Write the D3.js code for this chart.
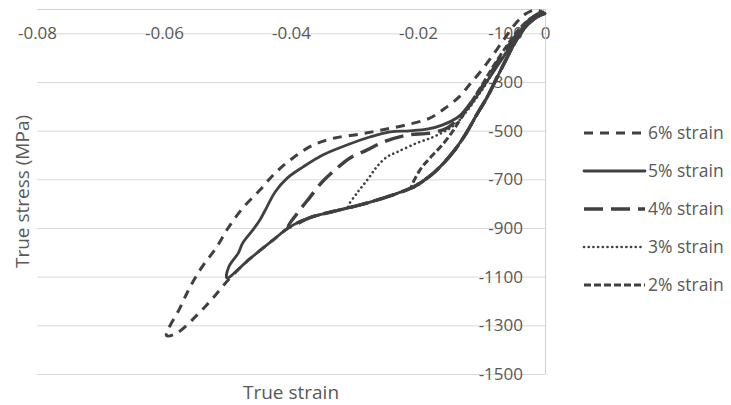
<!DOCTYPE html>
<html>
<head>
<meta charset="utf-8">
<script src="https://cdn.jsdelivr.net/npm/d3@7"></script>
<style>
  html, body { margin: 0; padding: 0; background: #fff; }
  svg { display: block; font-family: "Open Sans", "Noto Sans", sans-serif; }
</style>
</head>
<body>
<script>
// Cyclic compression loops: loading branch to the peak strain, then unloading back.
const seriesNames = ["6% strain", "5% strain", "4% strain", "3% strain", "2% strain"];

const strain6 = [0.0000, -0.0013, -0.0028, -0.0044, -0.0060, -0.0076, -0.0091, -0.0107, -0.0124, -0.0142, -0.0161, -0.0181, -0.0208, -0.0244, -0.0291, -0.0334, -0.0370, -0.0402, -0.0428, -0.0465, -0.0496, -0.0523, -0.0548, -0.0580, -0.0596,
  -0.0575, -0.0559, -0.0540, -0.0517, -0.0499, -0.0476, -0.0449, -0.0425, -0.0397, -0.0365, -0.0331, -0.0291, -0.0257, -0.0220, -0.0181, -0.0153, -0.0134, -0.0118, -0.0102, -0.0082, -0.0063, -0.0047, -0.0031, -0.0016, -0.0005];
const stress6 = [-18, -33, -66, -123, -201, -284, -362, -432, -510, -579, -637, -686, -732, -768, -805, -832, -857, -896, -949, -1027, -1105, -1188, -1258, -1332, -1342,
  -1229, -1143, -1060, -978, -900, -818, -744, -674, -612, -559, -530, -514, -497, -477, -448, -399, -358, -308, -259, -189, -119, -62, -21, -4, -12];

const strain5 = [0.0000, -0.0013, -0.0028, -0.0044, -0.0060, -0.0076, -0.0091, -0.0107, -0.0124, -0.0142, -0.0161, -0.0181, -0.0208, -0.0244, -0.0291, -0.0334, -0.0370, -0.0402, -0.0428, -0.0465, -0.0501,
  -0.0498, -0.0483, -0.0476, -0.0460, -0.0449, -0.0438, -0.0425, -0.0406, -0.0381, -0.0350, -0.0312, -0.0276, -0.0244, -0.0213, -0.0184, -0.0162, -0.0139, -0.0121, -0.0106, -0.0090, -0.0074, -0.0058, -0.0043, -0.0027, -0.0013, -0.0003];
const stress5 = [-18, -33, -66, -123, -201, -284, -362, -432, -510, -579, -637, -686, -732, -768, -805, -832, -857, -896, -949, -1027, -1105,
  -1060, -1003, -962, -908, -867, -814, -752, -695, -649, -600, -559, -526, -505, -501, -493, -477, -448, -407, -353, -292, -230, -168, -107, -53, -21, -12];

const strain4 = [0.0000, -0.0013, -0.0028, -0.0044, -0.0060, -0.0076, -0.0091, -0.0107, -0.0124, -0.0142, -0.0161, -0.0181, -0.0208, -0.0244, -0.0291, -0.0334, -0.0370, -0.0404,
  -0.0386, -0.0370, -0.0351, -0.0331, -0.0307, -0.0280, -0.0255, -0.0217, -0.0181, -0.0154, -0.0139, -0.0123, -0.0107, -0.0091, -0.0076, -0.0060, -0.0044, -0.0028, -0.0013, -0.0003];
const stress4 = [-18, -33, -66, -123, -201, -284, -362, -432, -510, -579, -637, -686, -732, -768, -805, -832, -857, -896,
  -826, -773, -711, -662, -612, -579, -547, -518, -510, -489, -456, -407, -349, -288, -222, -160, -103, -53, -25, -16];

const strain3 = [0.0000, -0.0013, -0.0028, -0.0044, -0.0060, -0.0076, -0.0091, -0.0107, -0.0124, -0.0142, -0.0161, -0.0181, -0.0208, -0.0244, -0.0291, -0.0310,
  -0.0296, -0.0280, -0.0265, -0.0249, -0.0233, -0.0202, -0.0176, -0.0154, -0.0139, -0.0123, -0.0107, -0.0091, -0.0076, -0.0060, -0.0044, -0.0028, -0.0013, -0.0003];
const stress3 = [-18, -33, -66, -123, -201, -284, -362, -432, -510, -579, -637, -686, -732, -768, -805, -815,
  -756, -703, -649, -608, -588, -551, -526, -497, -469, -419, -362, -300, -234, -173, -111, -62, -29, -16];

const strain2 = [0.0000, -0.0013, -0.0028, -0.0044, -0.0060, -0.0076, -0.0091, -0.0107, -0.0124, -0.0142, -0.0161, -0.0181, -0.0210,
  -0.0197, -0.0181, -0.0162, -0.0146, -0.0134, -0.0118, -0.0102, -0.0087, -0.0071, -0.0055, -0.0039, -0.0024, -0.0011, -0.0003];
const stress2 = [-18, -33, -66, -123, -201, -284, -362, -432, -510, -579, -637, -686, -735,
  -662, -612, -559, -505, -456, -390, -325, -259, -193, -132, -78, -41, -25, -21];

const xTickValues = [-0.08, -0.06, -0.04, -0.02, 0];
const xTickLabels = ["-0.08", "-0.06", "-0.04", "-0.02", "0"];
const yTickValues = [-100, -300, -500, -700, -900, -1100, -1300, -1500];
const yTickLabels = ["-100", "-300", "-500", "-700", "-900", "-1100", "-1300", "-1500"];

const W = 731, H = 405;
const plot = { left: 37, right: 545, top: 9, bottom: 374 };
const ink = "#404040", textColor = "#595959", gridColor = "#d9d9d9";

const x = d3.scaleLinear().domain([-0.08, 0]).range([plot.left, plot.right]);
const y = d3.scaleLinear().domain([-1500, 0]).range([plot.bottom, plot.top]);

const svg = d3.select("body").append("svg").attr("width", W).attr("height", H);

// horizontal gridlines
const grid = svg.append("g").attr("transform", `translate(${plot.right},0)`)
  .call(d3.axisLeft(y).tickValues(yTickValues).tickSize(plot.right - plot.left).tickFormat(""));
grid.select(".domain").remove();
grid.selectAll("line").attr("stroke", gridColor).attr("stroke-width", 1);

// horizontal axis sits at stress = 0 (top edge)
const xAxis = svg.append("g").attr("transform", `translate(0,${y(0)})`)
  .call(d3.axisBottom(x).tickValues(xTickValues).tickSize(0).tickSizeOuter(0)
    .tickFormat((d, i) => xTickLabels[i]));
xAxis.select(".domain").attr("stroke", "#d0d0d0");
xAxis.selectAll("text").attr("y", 24).attr("dy", "0.35em")
  .attr("fill", textColor).style("font-size", "17px").style("font-family", "'Open Sans', sans-serif");

// vertical axis sits at strain = 0 (right edge)
const yAxis = svg.append("g").attr("transform", `translate(${x(0)},0)`)
  .call(d3.axisLeft(y).tickValues(yTickValues).tickSize(0).tickSizeOuter(0).tickPadding(22)
    .tickFormat((d, i) => yTickLabels[i]));
yAxis.select(".domain").attr("stroke", "#d0d0d0");
yAxis.selectAll("text").attr("fill", textColor).style("font-size", "17px").style("font-family", "'Open Sans', sans-serif");

// axis titles
svg.append("text").attr("x", (plot.left + plot.right) / 2).attr("y", 392).attr("dy", "0.35em")
  .attr("text-anchor", "middle").attr("fill", textColor).style("font-size", "19px").text("True strain");
svg.append("text").attr("transform", `translate(22,${(plot.top + plot.bottom) / 2}) rotate(-90)`)
  .attr("dy", "0.35em").attr("text-anchor", "middle").attr("fill", textColor)
  .style("font-size", "19px").text("True stress (MPa)");

// series styles
const styles = [
  { dash: "9,7", width: 3, cap: "butt" },
  { dash: null, width: 2.8, cap: "round" },
  { dash: "19,8", width: 3.5, cap: "butt" },
  { dash: "0.1,4.6", width: 2.6, cap: "round" },
  { dash: "7,3", width: 3, cap: "butt" }
];
const seriesData = [
  d3.zip(strain6, stress6),
  d3.zip(strain5, stress5),
  d3.zip(strain4, stress4),
  d3.zip(strain3, stress3),
  d3.zip(strain2, stress2)
];

const line = d3.line().x(d => x(d[0])).y(d => y(d[1])).curve(d3.curveCatmullRom.alpha(0.5));

svg.append("g").selectAll("path").data(seriesData).join("path")
  .attr("d", line)
  .attr("fill", "none")
  .attr("stroke", ink)
  .attr("stroke-width", (d, i) => styles[i].width)
  .attr("stroke-dasharray", (d, i) => styles[i].dash)
  .attr("stroke-linecap", (d, i) => styles[i].cap)
  .attr("stroke-linejoin", "round");

// legend
const legend = svg.append("g");
const legendY = [133, 171, 209, 247, 285];
seriesNames.forEach((name, i) => {
  const g = legend.append("g").attr("transform", `translate(0,${legendY[i]})`);
  g.append("line").attr("x1", 584).attr("x2", 645).attr("y1", 0).attr("y2", 0)
    .attr("stroke", ink).attr("stroke-width", styles[i].width)
    .attr("stroke-dasharray", styles[i].dash).attr("stroke-linecap", styles[i].cap);
  g.append("text").attr("x", 648).attr("dy", "0.35em").attr("fill", textColor)
    .style("font-size", "17.5px").text(name);
});
</script>
</body>
</html>
